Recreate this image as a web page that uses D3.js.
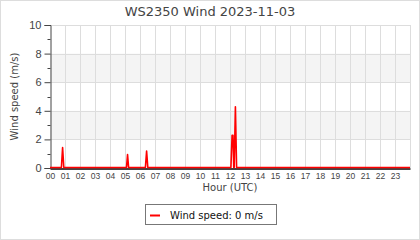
<!DOCTYPE html>
<html>
<head>
<meta charset="utf-8">
<script src="https://cdn.jsdelivr.net/npm/d3@7"></script>
<style>
  body { margin: 0; background: #fff; }
  svg { display: block; font-family: "DejaVu Sans", sans-serif; }
</style>
</head>
<body>
<svg id="chart"></svg>
<script>
// hours (UTC) and wind speed readings (m/s)
let hours = [0, 0.7, 0.76, 0.84, 0.92, 0.98, 5.05, 5.1, 5.17, 5.24, 5.3,
  6.3, 6.36, 6.44, 6.52, 6.56, 12.0, 12.06, 12.14, 12.2, 12.25, 12.28, 12.36, 12.44, 12.5, 24];
let speeds = [0, 0, 0, 1.4, 0, 0, 0, 0, 0.9, 0, 0,
  0, 0, 1.15, 0, 0, 0, 0, 2.25, 2.25, 0, 0, 4.25, 0, 0, 0];
let hourLabels = d3.range(24).map((h) => String(h).padStart(2, "0"));
let yTicks = [0, 2, 4, 6, 8, 10];
let bands = [[2, 4], [6, 8]];

let width = 420;
let height = 240;
let padLeft = 50, padRight = 410, padTop = 25, padBottom = 168;

let svg = d3.select("#chart").attr("width", width).attr("height", height);

// outer frame
svg.append("rect")
  .attr("x", 0.5).attr("y", 0.5)
  .attr("width", width - 1).attr("height", height - 1)
  .attr("fill", "#fff").attr("stroke", "#ddd");

let x = d3.scaleLinear().domain([0, 24]).range([padLeft, padRight]);
let y = d3.scaleLinear().domain([0, 10]).range([padBottom, padTop]);

// shaded bands
svg.selectAll("rect.band")
  .data(bands)
  .enter()
  .append("rect")
  .attr("class", "band")
  .attr("x", padLeft)
  .attr("width", padRight - padLeft)
  .attr("y", (d) => y(d[1]))
  .attr("height", (d) => y(d[0]) - y(d[1]))
  .attr("fill", "#f4f4f4");

// grid
svg.append("g")
  .selectAll("line")
  .data(d3.range(1, 25))
  .enter()
  .append("line")
  .attr("x1", (d) => Math.round(x(d)) + 0.5)
  .attr("x2", (d) => Math.round(x(d)) + 0.5)
  .attr("y1", padTop)
  .attr("y2", padBottom)
  .attr("stroke", "#ddd");

svg.append("g")
  .selectAll("line")
  .data(yTicks.slice(1))
  .enter()
  .append("line")
  .attr("x1", padLeft)
  .attr("x2", padRight + 1)
  .attr("y1", (d) => Math.round(y(d)) + 0.5)
  .attr("y2", (d) => Math.round(y(d)) + 0.5)
  .attr("stroke", "#ddd");

// y axis
let yAxis = d3.axisLeft(y).tickValues(yTicks).tickSize(6).tickPadding(3);
let gy = svg.append("g")
  .attr("transform", `translate(${padLeft + 0.5},0)`)
  .call(yAxis);
gy.select(".domain").attr("stroke", "#444");
gy.selectAll(".tick line").attr("stroke", "#444");
gy.selectAll(".tick text").attr("fill", "#444").style("font-size", "11px");
gy.selectAll(".minor")
  .data([1, 3, 5, 7, 9])
  .enter()
  .append("line")
  .attr("x1", -3).attr("x2", 0)
  .attr("y1", (d) => Math.round(y(d)) + 0.5)
  .attr("y2", (d) => Math.round(y(d)) + 0.5)
  .attr("stroke", "#444");

// x axis
let xAxis = d3.axisBottom(x)
  .tickValues(d3.range(24))
  .tickFormat((d) => hourLabels[d])
  .tickSize(0)
  .tickPadding(4);
let gx = svg.append("g")
  .attr("transform", `translate(0,${padBottom + 0.5})`)
  .call(xAxis);
gx.select(".domain").attr("stroke", "#444").attr("stroke-width", 2);
gx.selectAll(".tick text").attr("fill", "#444").style("font-size", "8.5px");

// wind line
let line = d3.line().x((d, i) => x(hours[i])).y((d) => y(d) - 0.5);
svg.append("path")
  .datum(speeds)
  .attr("d", line)
  .attr("fill", "none")
  .attr("stroke", "#f00")
  .attr("stroke-width", 1.6)
  .attr("stroke-linejoin", "round");

// titles
svg.append("text")
  .attr("x", width / 2).attr("y", 16)
  .attr("text-anchor", "middle")
  .attr("fill", "#444")
  .style("font-size", "13px")
  .text("WS2350 Wind 2023-11-03");

svg.append("text")
  .attr("x", (padLeft + padRight) / 2).attr("y", 191)
  .attr("text-anchor", "middle")
  .attr("fill", "#444")
  .style("font-size", "10px")
  .text("Hour (UTC)");

svg.append("text")
  .attr("transform", `translate(18,${(padTop + padBottom) / 2}) rotate(-90)`)
  .attr("text-anchor", "middle")
  .attr("fill", "#444")
  .style("font-size", "10px")
  .text("Wind speed (m/s)");

// legend
let lg = svg.append("g").attr("transform", "translate(145,204)");
lg.append("rect")
  .attr("x", 0.5).attr("y", 0.5)
  .attr("width", 131).attr("height", 20)
  .attr("fill", "#fff").attr("stroke", "#777");
lg.append("line")
  .attr("x1", 5).attr("x2", 15)
  .attr("y1", 11.5).attr("y2", 11.5)
  .attr("stroke", "#f00").attr("stroke-width", 2);
lg.append("text")
  .attr("x", 25).attr("y", 14.5)
  .attr("fill", "#111")
  .style("font-size", "10px")
  .text("Wind speed: " + speeds[speeds.length - 1] + " m/s");
</script>
</body>
</html>
